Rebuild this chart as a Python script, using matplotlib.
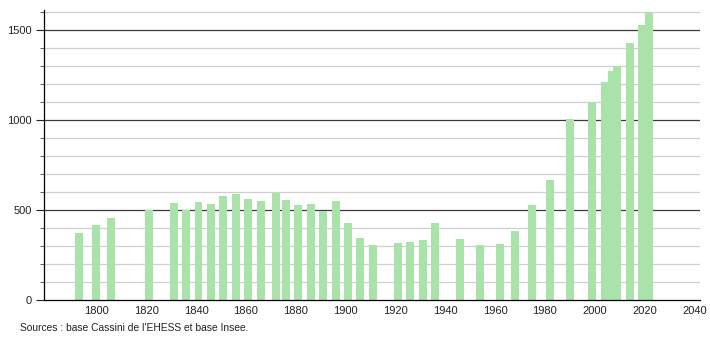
import matplotlib.pyplot as plt
from matplotlib.ticker import MultipleLocator

# Population by census year
years = [1793, 1800, 1806, 1821, 1831, 1836, 1841, 1846, 1851, 1856,
         1861, 1866, 1872, 1876, 1881, 1886, 1891, 1896, 1901, 1906,
         1911, 1921, 1926, 1931, 1936, 1946, 1954, 1962, 1968, 1975,
         1982, 1990, 1999, 2004, 2007, 2009, 2014, 2019, 2022]
population = [373, 415, 454, 502, 537, 499, 543, 532, 576, 586,
              558, 550, 594, 554, 526, 535, 493, 547, 425, 347,
              303, 314, 321, 335, 425, 338, 304, 309, 382, 526,
              665, 1003, 1099, 1212, 1269, 1300, 1427, 1527, 1592]
x_ticks = list(range(1800, 2041, 20))
source_text = "Sources : base Cassini de l'EHESS et base Insee."

plt.rcParams['font.family'] = ['Liberation Sans', 'DejaVu Sans']

fig = plt.figure(figsize=(7.1, 3.4), dpi=100)
ax = fig.add_axes([0.062, 0.1176, 0.924, 0.853])

# Grid: light every 100, dark every 500
for v in range(100, 1700, 100):
    if v % 500 == 0:
        ax.axhline(v, color='#3a3a3a', lw=0.9, zorder=1)
    else:
        ax.axhline(v, color='#cfcfcf', lw=0.9, zorder=1)

ax.bar(years, population, width=3.2, color='#aae3aa', zorder=2)

ax.set_xlim(1779, 2042.3)
ax.set_ylim(0, 1610)

ax.set_xticks(x_ticks)
ax.tick_params(axis='x', length=0, labelsize=8, pad=4, colors='#222222')
ax.yaxis.set_major_locator(MultipleLocator(500))
ax.yaxis.set_minor_locator(MultipleLocator(100))
ax.tick_params(axis='y', which='major', length=6, width=0.8, labelsize=8,
               pad=3, colors='#222222')
ax.tick_params(axis='y', which='minor', length=3, width=0.6, color='#444444')

for side in ['top', 'right']:
    ax.spines[side].set_visible(False)
ax.spines['left'].set_linewidth(0.9)
ax.spines['bottom'].set_linewidth(0.9)

fig.text(20 / 710, 1 - 328 / 340, source_text, fontsize=7.4,
         va='center', ha='left', color='#222222')

fig.savefig('out.png', dpi=100)
